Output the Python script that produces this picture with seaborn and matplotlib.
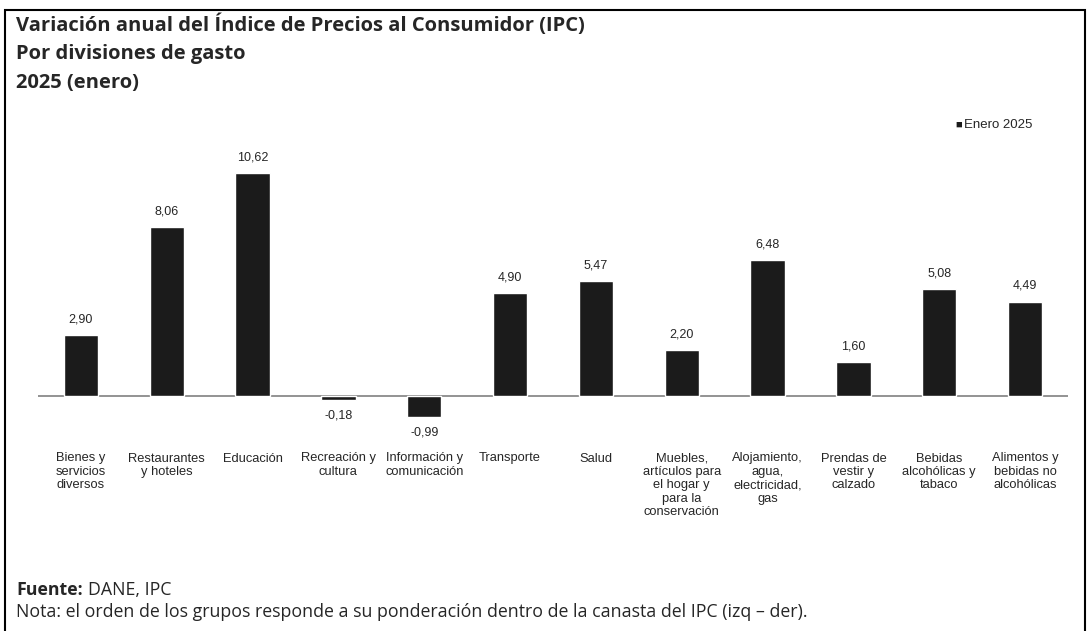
import matplotlib
matplotlib.use("Agg")
import matplotlib.pyplot as plt
import seaborn as sns
import pandas as pd
from matplotlib.patches import Rectangle

# -----------------------------------------------------------------------------
# Data
# -----------------------------------------------------------------------------

categories = [
    "Bienes y\nservicios\ndiversos",
    "Restaurantes\ny hoteles",
    "Educación",
    "Recreación y\ncultura",
    "Información y\ncomunicación",
    "Transporte",
    "Salud",
    "Muebles,\nartículos para\nel hogar y\npara la\nconservación",
    "Alojamiento,\nagua,\nelectricidad,\ngas",
    "Prendas de\nvestir y\ncalzado",
    "Bebidas\nalcohólicas y\ntabaco",
    "Alimentos y\nbebidas no\nalcohólicas",
]
values = [2.90, 8.06, 10.62, -0.18, -0.99, 4.90, 5.47, 2.20, 6.48, 1.60, 5.08, 4.49]
series_name = "Enero 2025"

title_lines = [
    "Variación anual del Índice de Precios al Consumidor (IPC)",
    "Por divisiones de gasto",
    "2025 (enero)",
]
source = "DANE, IPC"
note = "Nota: el orden de los grupos responde a su ponderación dentro de la canasta del IPC (izq – der)."

# -----------------------------------------------------------------------------
# Plot
# -----------------------------------------------------------------------------

W, H = 1088, 631
bar_color = "#1b1b1b"
label_font = ["Liberation Sans", "DejaVu Sans"]
title_font = ["Open Sans", "DejaVu Sans"]

sns.set_style("white")
plt.rcParams["font.family"] = label_font

df = pd.DataFrame({"division": categories, "valor": values})

fig = plt.figure(figsize=(W / 100, H / 100), dpi=100)
ax = fig.add_axes([38 / W, 1 - 427.5 / H, 1030 / W, 283.5 / H])

sns.barplot(data=df, x="division", y="valor", color=bar_color, width=0.4,
            saturation=1, ax=ax)

ax.set_ylim(-1.5, 12.0)
ax.axhline(0, color="#8a8a8a", lw=1.3, zorder=0)
for s in ax.spines.values():
    s.set_visible(False)
ax.set_yticks([])
ax.set_xlabel("")
ax.set_ylabel("")
ax.tick_params(axis="x", length=0, pad=18, labelsize=9.3)
for lab in ax.get_xticklabels():
    lab.set_linespacing(1.15)
    lab.set_verticalalignment("top")
    lab.set_horizontalalignment("center")

for i, v in enumerate(values):
    txt = f"{v:.2f}".replace(".", ",")
    if v >= 0:
        ax.annotate(txt, (i, v), xytext=(0, 7), textcoords="offset points",
                    ha="center", va="bottom", fontsize=9)
    else:
        ax.annotate(txt, (i, v), xytext=(0, -7), textcoords="offset points",
                    ha="center", va="top", fontsize=9)

# legend
fig.text(955 / W, 1 - 125 / H, "■", fontsize=8, color=bar_color,
         ha="left", va="center")
fig.text(964 / W, 1 - 125 / H, series_name, fontsize=9.5,
         ha="left", va="center")

# titles
for k, line in enumerate(title_lines):
    fig.text(16 / W, 1 - (25 + 29 * k) / H, line, fontsize=14.5,
             fontweight="bold", family=title_font, ha="left", va="center")

# footer
renderer = fig.canvas.get_renderer()
t = fig.text(16 / W, 1 - 590 / H, "Fuente:", fontsize=12.8, fontweight="bold",
             family=title_font, ha="left", va="center")
x_end = t.get_window_extent(renderer).x1
fig.text((x_end + 5) / W, 1 - 590 / H, source, fontsize=12.8,
         family=title_font, ha="left", va="center")
fig.text(16 / W, 1 - 612 / H, note, fontsize=12.8,
         family=title_font, ha="left", va="center")

# frame around the chart
fig.patches.append(Rectangle((5 / W, -0.05), 1080 / W, 1.05 - 10 / H,
                             transform=fig.transFigure, fill=False,
                             edgecolor="black", lw=1.5))

fig.savefig("out.png", dpi=100)
plt.close(fig)
